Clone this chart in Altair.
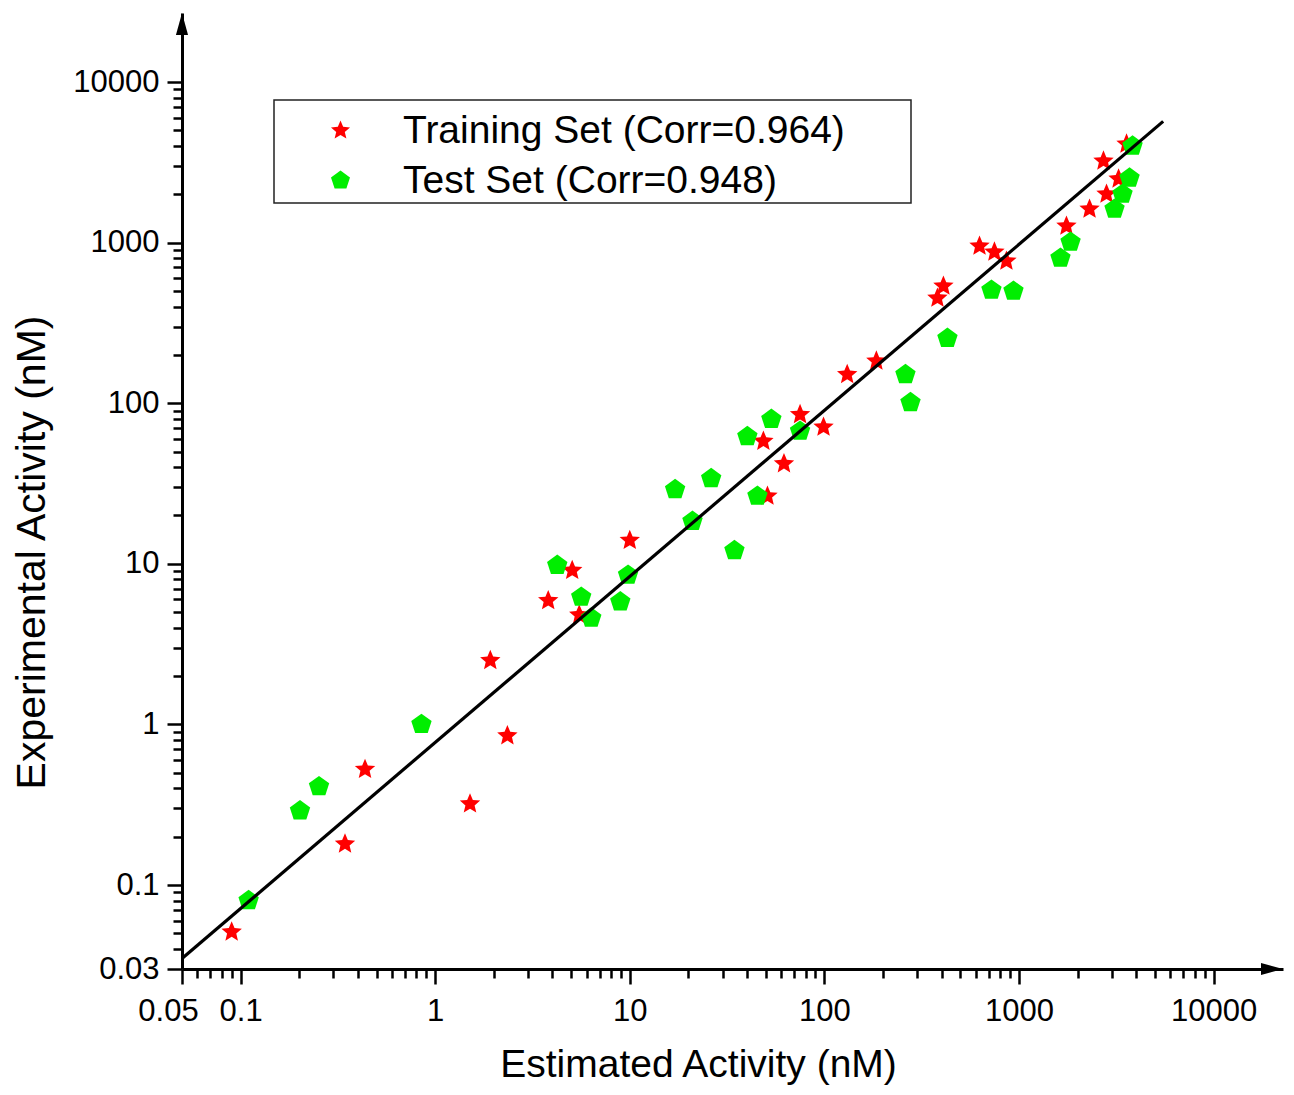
import math
import altair as alt
import pandas as pd

# ---------------- data ----------------
TRAIN_LABEL = "Training Set (Corr=0.964)"
TEST_LABEL = "Test Set (Corr=0.948)"

train_est = [0.090, 0.344, 0.436, 1.51, 1.92, 2.35, 3.81, 5.06, 5.5, 10.0,
             48.6, 51, 62, 75, 99, 131, 185, 381, 409, 627,
             748, 862, 1754, 2305, 2818, 3250, 2718, 3571]
train_exp = [0.051, 0.18, 0.525, 0.32, 2.5, 0.85, 5.9, 9.1, 4.8, 14,
             58, 26.4, 42, 85, 71, 151, 183, 451, 536, 951,
             873, 767, 1267, 1617, 2005, 2489, 3221, 4108]

test_est = [0.11, 0.202, 0.253, 0.85, 4.24, 5.63, 6.34, 8.94, 9.8, 17.1,
            21, 26.2, 34.5, 40.2, 45.3, 53.4, 75, 261, 277, 429,
            722, 937, 1634, 1841, 3098, 3405, 3700, 3834]
test_exp = [0.080, 0.29, 0.41, 1.0, 9.8, 6.2, 4.6, 5.8, 8.5, 29,
            18.4, 34, 12.1, 62, 26.4, 79.4, 67, 151, 101, 254,
            506, 499, 800, 1007, 1617, 2005, 2523, 3991]

fit_est = [0.05, 5508]
fit_exp = [0.0349, 5686]

x_major = [0.05, 0.1, 1, 10, 100, 1000, 10000]
y_major = [0.03, 0.1, 1, 10, 100, 1000, 10000]

X_MIN, X_MAX = 0.05, 22740
Y_MIN, Y_MAX = 0.03, 26900

x_minor = [round(m * 10 ** e, 6) for e in range(-2, 4) for m in range(2, 10)
           if X_MIN < m * 10 ** e < X_MAX]
y_minor = [round(m * 10 ** e, 6) for e in range(-2, 4) for m in range(2, 10)
           if Y_MIN < m * 10 ** e < Y_MAX]

# ---------------- marker shapes ----------------
def star_path(r_in=0.45):
    pts = []
    for k in range(10):
        a = -math.pi / 2 + k * math.pi / 5
        r = 1.0 if k % 2 == 0 else r_in
        pts.append(f"{r * math.cos(a):.4f},{r * math.sin(a):.4f}")
    return "M" + " L".join(pts) + " Z"


def pentagon_path():
    pts = []
    for k in range(5):
        a = -math.pi / 2 + k * 2 * math.pi / 5
        pts.append(f"{math.cos(a):.4f},{math.sin(a):.4f}")
    return "M" + " L".join(pts) + " Z"


STAR = star_path()
PENT = pentagon_path()
ARROW_RIGHT = "M0,0 L-2,-0.55 L-2,0.55 Z"
ARROW_UP = "M0,0 L-0.55,2 L0.55,2 Z"

FONT = "Liberation Sans"

df = pd.concat([
    pd.DataFrame({"est": train_est, "exp": train_exp, "set": TRAIN_LABEL}),
    pd.DataFrame({"est": test_est, "exp": test_exp, "set": TEST_LABEL}),
], ignore_index=True)

fit_df = pd.DataFrame({"est": fit_est, "exp": fit_exp})

x_scale = alt.Scale(type="log", domain=[X_MIN, X_MAX], nice=False, zero=False)
y_scale = alt.Scale(type="log", domain=[Y_MIN, Y_MAX], nice=False, zero=False)


def is_major(vals):
    return "indexof([" + ",".join(repr(v) for v in vals) + "], datum.value) >= 0"


x_axis = alt.Axis(
    orient="bottom",
    values=x_major + x_minor,
    labelExpr=f"{is_major(x_major)} ? '' + datum.value : ''",
    tickSize={"condition": {"test": is_major(x_major), "value": 15}, "value": 9},
    labelOffset={"condition": {"test": "datum.value == 0.05", "value": -14}, "value": 0},
    tickWidth=2.5, tickColor="black",
    domainWidth=3, domainColor="black",
    labelFontSize=31, labelColor="black", labelFont=FONT,
    labelPadding=12, labelOverlap=False, labelFlush=False, labelBound=False,
    grid=False,
    title="Estimated Activity (nM)",
    titleFontSize=39, titleFontWeight="normal", titleFont=FONT, titleColor="black",
    titleX=516, titleY=107, titleAlign="center", titleBaseline="alphabetic",
)

y_axis = alt.Axis(
    orient="left",
    values=y_major + y_minor,
    labelExpr=f"{is_major(y_major)} ? '' + datum.value : ''",
    tickSize={"condition": {"test": is_major(y_major), "value": 15}, "value": 9},
    tickWidth=2.5, tickColor="black",
    domainWidth=3, domainColor="black",
    labelFontSize=31, labelColor="black", labelFont=FONT,
    labelPadding=8, labelOverlap=False, labelFlush=False, labelBound=False,
    grid=False,
    title="Experimental Activity (nM)",
    titleFontSize=41, titleFontWeight="normal", titleFont=FONT, titleColor="black",
    titleX=-150, titleY=539, titleAngle=270, titleAlign="center",
    titleBaseline="middle",
)

legend = alt.Legend(
    title=None, orient="none", legendX=139, legendY=98,
    labelFontSize=39, labelFont=FONT, labelColor="black", labelLimit=800,
    symbolSize=400, symbolStrokeWidth=0, labelOffset=43,
    rowPadding=10, padding=0, symbolOffset=0,
)

set_domain = [TRAIN_LABEL, TEST_LABEL]

frame = alt.Chart(alt.Data(values=[{}])).mark_rect(
    fill="white", fillOpacity=0, stroke="#222222", strokeWidth=1.5
).encode(
    x=alt.value(92), x2=alt.value(729), y=alt.value(87), y2=alt.value(190)
)

points = alt.Chart(df).mark_point(filled=True, size=460, opacity=1, strokeWidth=0).encode(
    x=alt.X("est:Q", scale=x_scale, axis=x_axis),
    y=alt.Y("exp:Q", scale=y_scale, axis=y_axis),
    color=alt.Color("set:N", scale=alt.Scale(domain=set_domain, range=["#FF0000", "#00EE00"]),
                    legend=legend),
    shape=alt.Shape("set:N", scale=alt.Scale(domain=set_domain, range=[STAR, PENT]),
                    legend=legend),
)

line = alt.Chart(fit_df).mark_line(color="black", strokeWidth=3.2).encode(
    x=alt.X("est:Q", scale=x_scale),
    y=alt.Y("exp:Q", scale=y_scale),
)

arrow_x = alt.Chart(alt.Data(values=[{"est": X_MAX, "exp": Y_MIN}])).mark_point(
    shape=ARROW_RIGHT, size=484, filled=True, color="black", opacity=1, strokeWidth=0
).encode(
    x=alt.X("est:Q", scale=x_scale),
    y=alt.Y("exp:Q", scale=y_scale),
)

arrow_y = alt.Chart(alt.Data(values=[{"est": X_MIN, "exp": Y_MAX}])).mark_point(
    shape=ARROW_UP, size=484, filled=True, color="black", opacity=1, strokeWidth=0
).encode(
    x=alt.X("est:Q", scale=x_scale),
    y=alt.Y("exp:Q", scale=y_scale),
)

chart = alt.layer(frame, points, line, arrow_x, arrow_y).properties(
    width=1101,
    height=956,
    padding={"left": 174, "top": 5, "right": 3, "bottom": 118},
    autosize=alt.AutoSizeParams(type="none"),
).configure(
    font=FONT, background="white",
    view=alt.ViewConfig(strokeWidth=0, stroke="transparent"),
)

chart.save("out.html", embed_options={"renderer": "svg", "actions": False})
